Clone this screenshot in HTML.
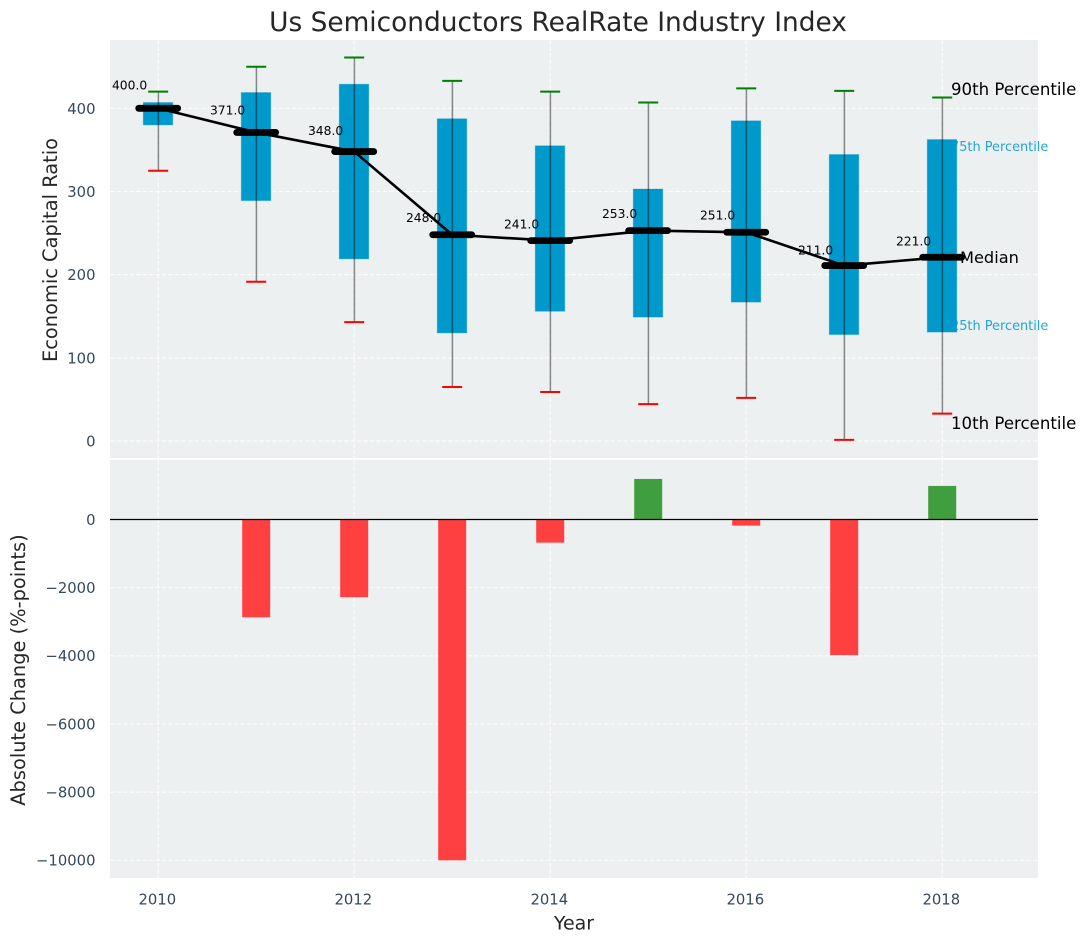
<!DOCTYPE html>
<html lang="en">
<head>
<meta charset="utf-8">
<title>Us Semiconductors RealRate Industry Index</title>
<style>
html,body{margin:0;padding:0;background:#fff}
svg{display:block}
text{font-family:"DejaVu Sans","Liberation Sans",sans-serif}
</style>
</head>
<body>
<svg id="chart" xmlns="http://www.w3.org/2000/svg" width="1086" height="942" viewBox="0 0 1086 942">
  <rect width="1086" height="942" fill="#ffffff"/>
  <rect x="110" y="40" width="928" height="418" fill="#ecf0f1"/>
  <rect x="110" y="460" width="928" height="418" fill="#ecf0f1"/>
  <g id="grid"></g>
  <g id="boxes"></g>
  <g id="bars"></g>
  <g id="whiskers"></g>
  <path id="medianLine" fill="none" stroke="#000" stroke-width="2.6" stroke-linejoin="round"/>
  <g id="medians"></g>
  <g id="valueLabels"></g>
  <g id="ticks"></g>
  <line x1="110" x2="1038" y1="519.5" y2="519.5" stroke="#000" stroke-width="1.3"/>
  <text x="558" y="31" text-anchor="middle" font-size="26.4" fill="#262626">Us Semiconductors RealRate Industry Index</text>
  <text x="574" y="929.5" text-anchor="middle" font-size="19" fill="#262626">Year</text>
  <text transform="translate(57,250) rotate(-90)" text-anchor="middle" font-size="19.4" fill="#262626">Economic Capital Ratio</text>
  <text transform="translate(25,670) rotate(-90)" text-anchor="middle" font-size="19.4" fill="#262626">Absolute Change (%-points)</text>
  <text x="951" y="95" font-size="16.6" fill="#000">90th Percentile</text>
  <text x="951" y="151" font-size="12.9" fill="#0099cc" fill-opacity="0.85">75th Percentile</text>
  <text x="960" y="263" font-size="16.2" fill="#000">Median</text>
  <text x="951" y="330" font-size="12.9" fill="#0099cc" fill-opacity="0.85">25th Percentile</text>
  <text x="951" y="429" font-size="16.6" fill="#000">10th Percentile</text>
</svg>
<script>
const years = [2010, 2011, 2012, 2013, 2014, 2015, 2016, 2017, 2018];
const p90 = [420, 450, 461, 433, 420, 407, 424, 421, 413];
const p75 = [407, 419, 429, 387.5, 355, 303, 385, 344.5, 362.5];
const medianValues = [400, 371, 348, 248, 241, 253, 251, 211, 221];
const p25 = [380, 289, 219, 130, 156, 149, 167, 128, 131];
const p10 = [325, 191.5, 143, 65, 59, 44.5, 52, 1.5, 33];
const changeValues = [0, -2870, -2280, -10000, -680, 1190, -180, -3980, 985];
const topTicks = [0, 100, 200, 300, 400];
const bottomTicks = [0, -2000, -4000, -6000, -8000, -10000];
const xTicks = [2010, 2012, 2014, 2016, 2018];

const NS = 'http://www.w3.org/2000/svg';
const xScale = v => 158.2 + (v - 2010) * 98;
const yTop = v => 441.1 - v * 0.832;
const yBottom = v => 519.5 - v * 0.03408;

function make(parent, tag, attrs, txt) {
  const el = document.createElementNS(NS, tag);
  for (const k in attrs) el.setAttribute(k, attrs[k]);
  if (txt !== undefined) el.textContent = txt;
  document.getElementById(parent).appendChild(el);
  return el;
}

// gridlines
xTicks.forEach(t => {
  [[40, 458], [460, 878]].forEach(r => {
    const el = make('grid', 'line', {x1: xScale(t), x2: xScale(t), y1: r[0], y2: r[1], stroke: '#fff', 'stroke-width': 1.1, 'stroke-dasharray': '4.5 2', 'stroke-opacity': 0.85});
    
    
  });
  const label = make('ticks', 'text', {x: xScale(t) - 0.9, y: 904.5, 'text-anchor': 'middle', 'font-size': 14.8, fill: '#34495e'}, String(t));
  
  
});
topTicks.forEach(t => {
  const el = make('grid', 'line', {x1: 110, x2: 1038, y1: yTop(t), y2: yTop(t), stroke: '#fff', 'stroke-width': 1.1, 'stroke-dasharray': '4.5 2', 'stroke-opacity': 0.85});
  
  
  const label = make('ticks', 'text', {x: 95.5, y: yTop(t) + 5.5, 'text-anchor': 'end', 'font-size': 14.8, fill: '#34495e'}, String(t));
  
  
});
bottomTicks.forEach(t => {
  const el = make('grid', 'line', {x1: 110, x2: 1038, y1: yBottom(t), y2: yBottom(t), stroke: '#fff', 'stroke-width': 1.1, 'stroke-dasharray': '4.5 2', 'stroke-opacity': 0.85});
  
  
  const text = t < 0 ? '\u2212' + Math.abs(t) : String(t);
  const label = make('ticks', 'text', {x: 95.5, y: yBottom(t) + 5.3, 'text-anchor': 'end', 'font-size': 14.8, fill: '#34495e'}, text);
  
  
});

// marks
years.forEach((yr, i) => {
  const cx = xScale(yr);
  const box = make('boxes', 'rect', {x: cx - 15, y: yTop(p75[i]), width: 29.6, height: yTop(p25[i]) - yTop(p75[i]), fill: '#0099cc', stroke: '#0099cc', 'stroke-opacity': 0.25, 'stroke-width': 1});
  
  

  const whisker = make('whiskers', 'line', {x1: cx + 0.2, x2: cx + 0.2, y1: yTop(p90[i]), y2: yTop(p10[i]), stroke: '#000', 'stroke-opacity': 0.45, 'stroke-width': 1.5});
  
  

  const capHigh = make('whiskers', 'line', {x1: cx - 10, x2: cx + 10, y1: yTop(p90[i]), y2: yTop(p90[i]), stroke: '#008000', 'stroke-width': 2});
  
  

  const capLow = make('whiskers', 'line', {x1: cx - 10, x2: cx + 10, y1: yTop(p10[i]), y2: yTop(p10[i]), stroke: '#ff0000', 'stroke-width': 2});
  
  

  const marker = make('medians', 'line', {x1: cx - 19.5, x2: cx + 19.5, y1: yTop(medianValues[i]), y2: yTop(medianValues[i]), stroke: '#000', 'stroke-width': 6.8, 'stroke-linecap': 'round'});
  
  

  const label = make('valueLabels', 'text', {x: cx - 11, y: yTop(medianValues[i] * 1.05) - 2.3, 'text-anchor': 'end', 'font-size': 12.3, fill: '#000'}, medianValues[i].toFixed(1));
  
  

  if (changeValues[i] !== 0) {
    const v = changeValues[i];
    const bar = make('bars', 'rect', {x: cx - 14, y: Math.min(yBottom(0), yBottom(v)), width: 28, height: Math.abs(yBottom(v) - yBottom(0)), fill: v < 0 ? '#ff4040' : '#3f9f3f'});
    
    
  }
});
document.getElementById('medianLine').setAttribute('d', years.map((yr, i) => (i ? 'L' : 'M') + xScale(yr) + ' ' + yTop(medianValues[i])).join(' '));
</script>
</body>
</html>
